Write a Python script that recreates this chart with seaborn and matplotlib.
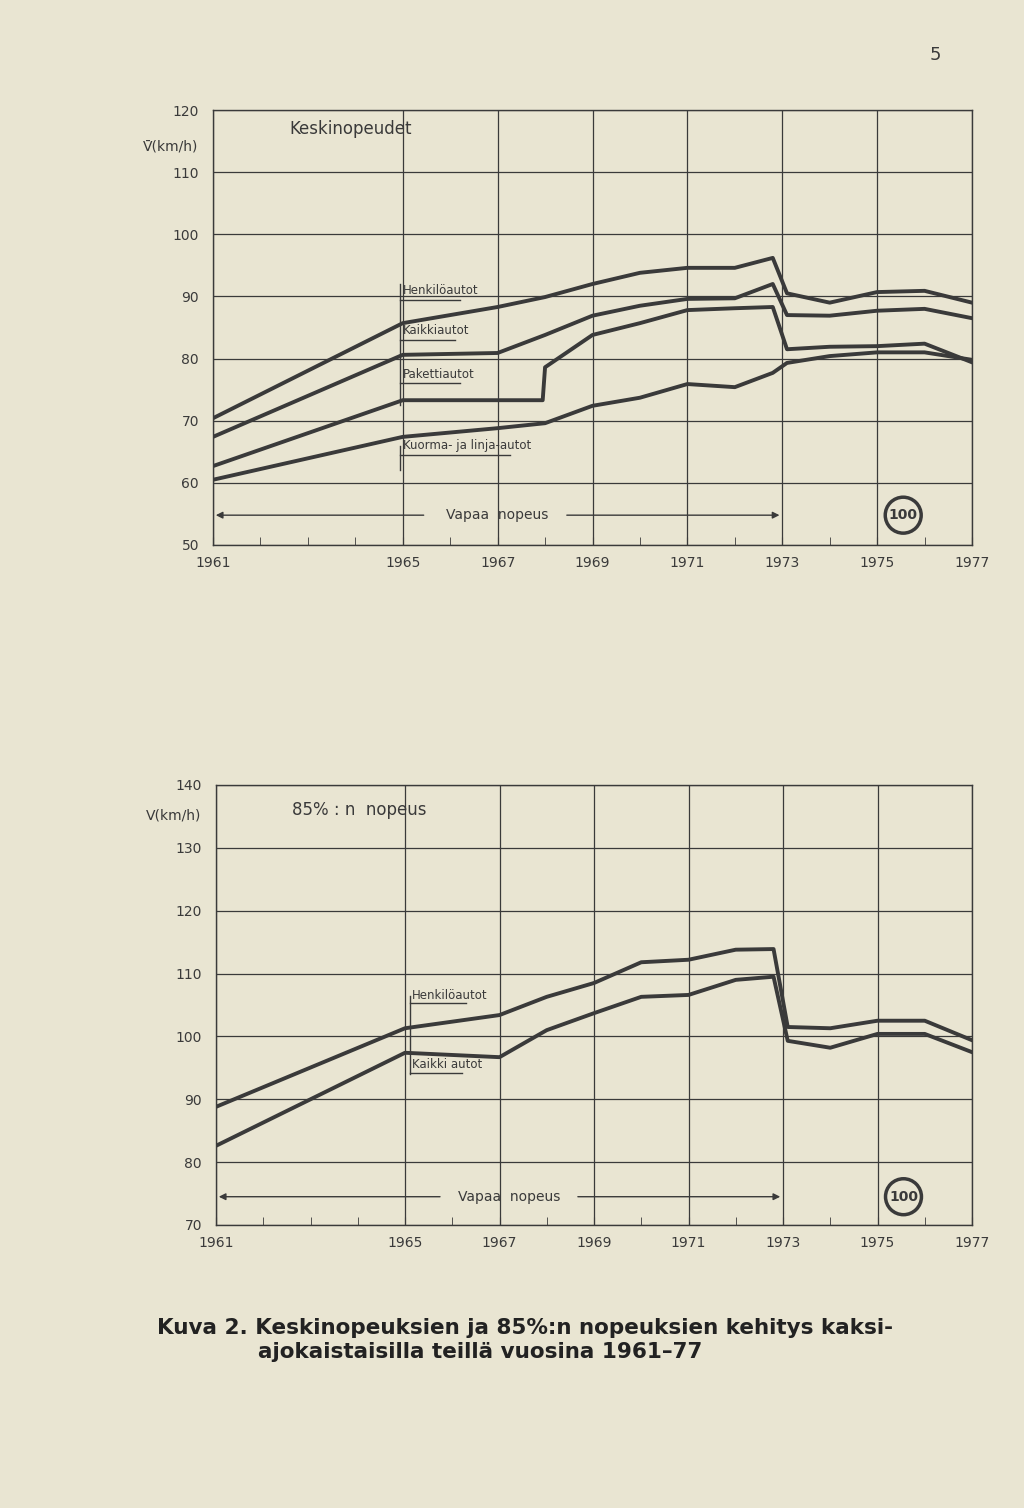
import matplotlib
matplotlib.use("Agg")
import matplotlib.pyplot as plt
import seaborn as sns
import pandas as pd
from matplotlib.patches import Circle

# ---- data: top chart (Keskinopeudet) ----
top_years = [1961, 1965, 1967, 1968, 1969, 1970, 1971, 1972, 1972.8, 1973.1, 1974, 1975, 1976, 1977]
henkilo_top = [70.4, 85.7, 88.3, 89.9, 92.0, 93.8, 94.6, 94.6, 96.2, 90.5, 89.0, 90.7, 90.9, 89.0]
kaikki_top = [67.4, 80.6, 80.9, 83.8, 86.9, 88.5, 89.6, 89.7, 92.0, 87.0, 86.9, 87.7, 88.0, 86.5]
paketti_years = [1961, 1965, 1967, 1967.95, 1968, 1969, 1970, 1971, 1972, 1972.8, 1973.1, 1974, 1975, 1976, 1977]
paketti_top = [62.7, 73.3, 73.3, 73.3, 78.6, 83.8, 85.7, 87.8, 88.1, 88.3, 81.5, 81.9, 82.0, 82.4, 79.4]
kuorma_top = [60.5, 67.4, 68.8, 69.6, 72.4, 73.7, 75.9, 75.4, 77.7, 79.3, 80.4, 81.0, 81.0, 79.8]

# ---- data: bottom chart (85 % nopeus) ----
bot_years = [1961, 1965, 1967, 1968, 1969, 1970, 1971, 1972, 1972.8, 1973.1, 1974, 1975, 1976, 1977]
henkilo_bot = [88.8, 101.3, 103.4, 106.3, 108.5, 111.8, 112.2, 113.8, 113.9, 101.5, 101.3, 102.5, 102.5, 99.4]
kaikki_bot = [82.6, 97.4, 96.7, 101.0, 103.7, 106.3, 106.6, 109.0, 109.5, 99.3, 98.2, 100.4, 100.4, 97.5]

tick_years = [1961, 1965, 1967, 1969, 1971, 1973, 1975, 1977]
tick_labels = ["1961", "1965", "1967", "1969", "1971", "1973", "1975", "1977"]

PAPER = "#e9e5d2"
INK = "#3a3a3a"

def long_df(x, series):
    rows = []
    for name, (xs, ys) in series.items():
        for a, b in zip(xs, ys):
            rows.append({"year": a, "v": b, "s": name})
    return pd.DataFrame(rows)

fig = plt.figure(figsize=(10.24, 15.08), dpi=100, facecolor=PAPER)
W, H = 1024, 1508

def setup(ax, ymin, ymax):
    ax.set_facecolor(PAPER)
    ax.set_xlim(1961, 1977)
    ax.set_ylim(ymin, ymax)
    ax.set_xticks(tick_years)
    ax.set_xticklabels(tick_labels, fontsize=10, color=INK)
    ax.set_xticks(range(1961, 1978), minor=True)
    ax.set_yticks(range(ymin, ymax + 1, 10))
    ax.set_yticklabels([str(v) for v in range(ymin, ymax + 1, 10)], fontsize=10, color=INK)
    ax.grid(True, which="major", color=INK, lw=0.9)
    ax.tick_params(axis="x", which="both", direction="in", length=6, color=INK, pad=8)
    ax.tick_params(axis="y", length=0, pad=10)
    for s in ax.spines.values():
        s.set_color(INK); s.set_linewidth(1.0)
    ax.set_xlabel(""); ax.set_ylabel("")
    leg = ax.get_legend()
    if leg: leg.remove()

# ---- top axes ----
ax1 = fig.add_axes([213 / W, 1 - 545 / H, 759 / W, 435 / H])
df1 = long_df(None, {"Henkilöautot": (top_years, henkilo_top),
                     "Kaikkiautot": (top_years, kaikki_top),
                     "Pakettiautot": (paketti_years, paketti_top),
                     "Kuorma": (top_years, kuorma_top)})
sns.lineplot(data=df1, x="year", y="v", units="s", estimator=None, color=INK, lw=2.8, ax=ax1, sort=False)
setup(ax1, 50, 120)
ax1.text(1962.6, 117, "Keskinopeudet", fontsize=12, color=INK, ha="left", va="center")
ax1.text(-0.02, 0.917, "V̄(km/h)", transform=ax1.transAxes, ha="right", va="center", fontsize=10, color=INK)
# labels
lab_x = 1964.95
ax1.plot([lab_x, lab_x], [72.5, 92], color=INK, lw=1.0)
for txt, y in [("Henkilöautot", 89.5), ("Kaikkiautot", 83.0), ("Pakettiautot", 76.0), ("Kuorma- ja linja-autot", 64.5)]:
    ax1.text(lab_x + 0.05, y + 0.4, txt, fontsize=8.5, color=INK, va="bottom")
    ax1.plot([lab_x, lab_x + (len(txt) * 0.105)], [y, y], color=INK, lw=1.0)
ax1.plot([lab_x, lab_x], [62, 66], color=INK, lw=1.0)
ax1.annotate("", xy=(1961, 54.8), xytext=(1965.5, 54.8), arrowprops=dict(arrowstyle="-|>", color=INK, lw=1))
ax1.annotate("", xy=(1973, 54.8), xytext=(1968.4, 54.8), arrowprops=dict(arrowstyle="-|>", color=INK, lw=1))
ax1.text(1967, 54.8, "Vapaa  nopeus", fontsize=10, color=INK, ha="center", va="center")
ax1.text(1975.55, 54.8, "100", fontsize=10, color=INK, ha="center", va="center", weight="bold",
         bbox=dict(boxstyle="circle,pad=0.25", fc="none", ec=INK, lw=2.5))

# ---- bottom axes ----
ax2 = fig.add_axes([216 / W, 1 - 1225 / H, 756 / W, 440 / H])
df2 = long_df(None, {"Henkilöautot": (bot_years, henkilo_bot),
                     "Kaikki autot": (bot_years, kaikki_bot)})
sns.lineplot(data=df2, x="year", y="v", units="s", estimator=None, color=INK, lw=2.8, ax=ax2, sort=False)
setup(ax2, 70, 140)
ax2.text(1962.6, 136, "85% : n  nopeus", fontsize=12, color=INK, ha="left", va="center")
ax2.text(-0.02, 0.93, "V(km/h)", transform=ax2.transAxes, ha="right", va="center", fontsize=10, color=INK)
lx = 1965.1
ax2.plot([lx, lx], [94, 106.5], color=INK, lw=1.0)
ax2.text(lx + 0.05, 105.5, "Henkilöautot", fontsize=8.5, color=INK, va="bottom")
ax2.plot([lx, lx + 1.2], [105.3, 105.3], color=INK, lw=1.0)
ax2.text(lx + 0.05, 94.5, "Kaikki autot", fontsize=8.5, color=INK, va="bottom")
ax2.plot([lx, lx + 1.1], [94.2, 94.2], color=INK, lw=1.0)
ax2.annotate("", xy=(1961, 74.5), xytext=(1965.8, 74.5), arrowprops=dict(arrowstyle="-|>", color=INK, lw=1))
ax2.annotate("", xy=(1973, 74.5), xytext=(1968.6, 74.5), arrowprops=dict(arrowstyle="-|>", color=INK, lw=1))
ax2.text(1967.2, 74.5, "Vapaa  nopeus", fontsize=10, color=INK, ha="center", va="center")
ax2.text(1975.55, 74.5, "100", fontsize=10, color=INK, ha="center", va="center", weight="bold",
         bbox=dict(boxstyle="circle,pad=0.25", fc="none", ec=INK, lw=2.5))

fig.text(930 / W, 1 - 60 / H, "5", fontsize=13, color=INK)
fig.text(157 / W, 1 - 1328 / H, "Kuva 2. Keskinopeuksien ja 85%:n nopeuksien kehitys kaksi-",
         fontsize=15.5, weight="bold", color="#222222", va="center")
fig.text(258 / W, 1 - 1352 / H, "ajokaistaisilla teillä vuosina 1961–77",
         fontsize=15.5, weight="bold", color="#222222", va="center")

fig.savefig("out.png", dpi=100, facecolor=PAPER)
